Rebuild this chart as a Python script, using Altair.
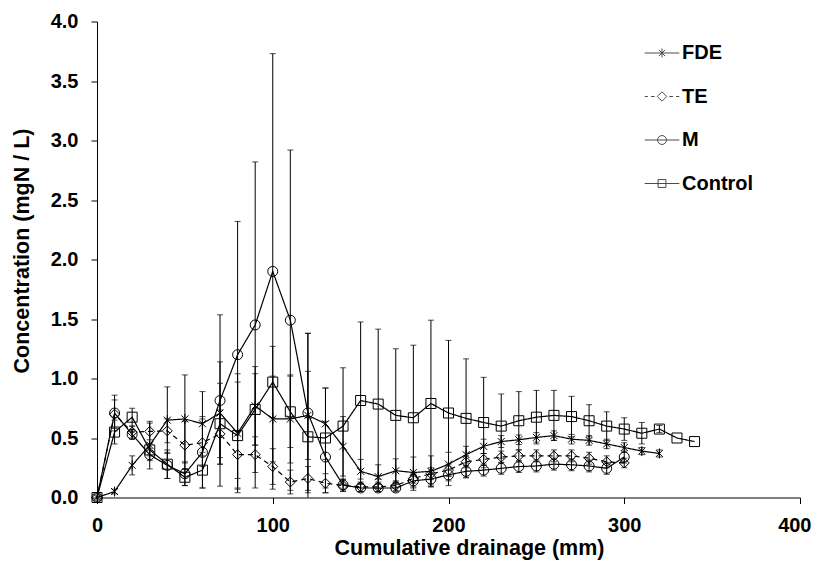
import altair as alt
import pandas as pd

# Cumulative drainage (mm) sampling points
drainage = [0, 10, 20, 30, 40, 50, 60, 70, 80, 90, 100, 110, 120, 130, 140, 150, 160,
            170, 180, 190, 200, 210, 220, 230, 240, 250, 260, 270, 280, 290, 300, 310,
            320, 330, 340]

series_names = ["FDE", "TE", "M", "Control"]

fde_mean = [0.00, 0.05, 0.27, 0.44, 0.65, 0.66, 0.62, 0.71, 0.54, 0.77, 0.66, 0.66, 0.69,
            0.62, 0.43, 0.22, 0.175, 0.225, 0.21, 0.22, 0.28, 0.36, 0.43, 0.47, 0.485,
            0.505, 0.52, 0.49, 0.48, 0.45, 0.42, 0.39, 0.37]
fde_sd = [0.00, 0.02, 0.08, 0.20, 0.28, 0.37, 0.27, 0.43, 0.50, 0.33, 0.36, 0.37, 0.37,
          0.30, 0.25, 0.10, 0.10, 0.10, 0.13, 0.13, 0.10, 0.07, 0.06, 0.05, 0.04, 0.04,
          0.04, 0.04, 0.04, 0.04, 0.04, 0.03, 0.03]

te_mean = [0.00, 0.70, 0.55, 0.555, 0.56, 0.44, 0.46, 0.535, 0.36, 0.36, 0.26, 0.13, 0.16,
           0.12, 0.10, 0.09, 0.09, 0.10, 0.16, 0.20, 0.23, 0.30, 0.32, 0.34, 0.35, 0.35,
           0.35, 0.35, 0.33, 0.30, 0.29]
te_sd = [0.00, 0.12, 0.05, 0.07, 0.10, 0.20, 0.20, 0.20, 0.20, 0.15, 0.15, 0.10, 0.10,
         0.08, 0.05, 0.04, 0.04, 0.04, 0.04, 0.05, 0.05, 0.05, 0.05, 0.05, 0.05, 0.05,
         0.05, 0.05, 0.05, 0.05, 0.04]

m_mean = [0.00, 0.71, 0.53, 0.36, 0.27, 0.20, 0.38, 0.815, 1.20, 1.45, 1.90, 1.49, 0.71,
          0.34, 0.105, 0.08, 0.08, 0.08, 0.14, 0.155, 0.19, 0.22, 0.23, 0.245, 0.26,
          0.265, 0.28, 0.275, 0.265, 0.245, 0.34]
m_sd = [0.00, 0.15, 0.04, 0.05, 0.11, 0.10, 0.30, 0.72, 1.12, 1.37, 1.83, 1.43, 0.67,
        0.30, 0.05, 0.03, 0.03, 0.03, 0.05, 0.05, 0.05, 0.05, 0.05, 0.05, 0.05, 0.05,
        0.05, 0.05, 0.05, 0.05, 0.05]

control_mean = [0.00, 0.55, 0.675, 0.40, 0.28, 0.17, 0.23, 0.62, 0.52, 0.74, 0.97, 0.72,
                0.51, 0.50, 0.60, 0.815, 0.785, 0.69, 0.67, 0.79, 0.71, 0.665, 0.63, 0.60,
                0.645, 0.675, 0.69, 0.68, 0.645, 0.60, 0.575, 0.54, 0.575, 0.50, 0.47]
control_sd = [0.00, 0.10, 0.075, 0.05, 0.12, 0.07, 0.15, 0.34, 0.45, 0.30, 0.30, 0.30,
              0.87, 0.42, 0.49, 0.66, 0.63, 0.56, 0.61, 0.70, 0.61, 0.50, 0.38, 0.27,
              0.245, 0.225, 0.21, 0.17, 0.135, 0.12, 0.095, 0.09, 0.03, 0.0, 0.0]

means = [fde_mean, te_mean, m_mean, control_mean]
sds = [fde_sd, te_sd, m_sd, control_sd]

rows = []
for name, mu, sd in zip(series_names, means, sds):
    for i, (v, s) in enumerate(zip(mu, sd)):
        rows.append({
            "series": name,
            "x": drainage[i],
            "y": v,
            "sd": s,
            "hi": v + s,
            "lo": max(v - s, 0.0),
            "lo_raw": v - s,
        })
df = pd.DataFrame(rows)

# marker shapes
asterisk = "M-0.7,-0.7L0.7,0.7M-0.7,0.7L0.7,-0.7M0,-1L0,1"
marker_range = [asterisk, "diamond", "circle", "square"]

legend_paths = [
    "M-3.3,0L3.3,0M-0.6,-0.6L0.6,0.6M-0.6,0.6L0.6,-0.6M0,-0.85L0,0.85",
    "M-3.3,0L-2.7,0M-2.1,0L-1.4,0M1.4,0L2.1,0M2.7,0L3.3,0M-0.9,0L0,-0.9L0.9,0L0,0.9Z",
    "M-3.3,0L3.3,0M-0.85,0A0.85,0.85,0,1,1,0.85,0A0.85,0.85,0,1,1,-0.85,0",
    "M-3.3,0L3.3,0M-0.75,-0.75L0.75,-0.75L0.75,0.75L-0.75,0.75Z",
]

FONT = "Liberation Sans"

x_enc = alt.X(
    "x:Q",
    scale=alt.Scale(domain=[0, 400], nice=False, zero=False),
    axis=alt.Axis(
        values=[0, 100, 200, 300, 400],
        title="Cumulative drainage (mm)",
        tickSize=6,
        labelPadding=12,
        titlePadding=2,
        titleX=372,
        titleAlign="center",
        labelFlush=False,
        labelAlign={"condition": {"test": "datum.value == 400", "value": "right"}, "value": "center"},
        labelOffset={"condition": {"test": "datum.value == 400", "value": 11}, "value": 0},
        format="d",
    ),
)
y_enc = alt.Y(
    "y:Q",
    scale=alt.Scale(domain=[0, 4], nice=False),
    axis=alt.Axis(
        values=[0, 0.5, 1.0, 1.5, 2.0, 2.5, 3.0, 3.5, 4.0],
        format=".1f",
        title="Concentration (mgN / L)",
        tickSize=6,
        labelPadding=13,
        titlePadding=17,
        titleY=229,
        labelFlush=False,
    ),
)

base = alt.Chart(df)
eb = base.transform_filter(alt.datum.sd > 0)

rules = eb.mark_rule(color="black", strokeWidth=1).encode(
    x=x_enc, y="lo:Q", y2="hi:Q", detail="series:N"
)
caps_hi = eb.mark_tick(color="black", orient="horizontal", size=6, thickness=1).encode(
    x="x:Q", y="hi:Q", detail="series:N"
)
caps_lo = eb.transform_filter(alt.datum.lo_raw > 0).mark_tick(
    color="black", orient="horizontal", size=6, thickness=1
).encode(x="x:Q", y="lo:Q", detail="series:N")

lines = base.mark_line(color="black", strokeWidth=1.2).encode(
    x=x_enc,
    y=y_enc,
    detail="series:N",
    strokeDash=alt.StrokeDash(
        "series:N",
        scale=alt.Scale(domain=series_names, range=[[1, 0], [5, 4], [1, 0], [1, 0]]),
        legend=None,
    ),
)

points = base.mark_point(filled=False, color="black", strokeWidth=1, size=100, opacity=1).encode(
    x="x:Q",
    y="y:Q",
    shape=alt.Shape(
        "series:N",
        scale=alt.Scale(domain=series_names, range=marker_range),
        legend=None,
    ),
)

legend_df = pd.DataFrame({"label": series_names})
legend_layer = alt.Chart(legend_df).transform_filter(
    alt.datum.label == "__none__"
).mark_point(filled=False, color="black", strokeWidth=1).encode(
    shape=alt.Shape(
        "label:N",
        scale=alt.Scale(domain=series_names, range=legend_paths),
        legend=alt.Legend(
            title=None,
            orient="none",
            legendX=555,
            legendY=21.5,
            symbolSize=110,
            symbolStrokeColor="black",
            symbolStrokeWidth=1,
            symbolFillColor="transparent",
            labelFont=FONT,
            labelFontSize=20,
            labelFontWeight="bold",
            labelColor="black",
            labelOffset=10,
            rowPadding=23.5,
            padding=0,
        ),
    ),
)

chart = (
    alt.layer(rules, caps_hi, caps_lo, lines, points, legend_layer)
    .resolve_scale(shape="independent", strokeDash="independent")
    .properties(
        width=703,
        height=476,
        padding={"left": 89, "top": 13.5, "right": 12, "bottom": 63.5},
        autosize=alt.AutoSizeParams(type="none"),
        background="white",
    )
    .configure_view(stroke=None)
    .configure_axis(
        grid=False,
        domainColor="black",
        domainWidth=1,
        tickColor="black",
        tickWidth=1,
        labelFont=FONT,
        labelFontSize=20,
        labelFontWeight="bold",
        labelColor="black",
        titleFont=FONT,
        titleFontSize=21.5,
        titleFontWeight="bold",
        titleColor="black",
    )
)

chart.save("out.html", embed_options={"renderer": "svg", "actions": False})
